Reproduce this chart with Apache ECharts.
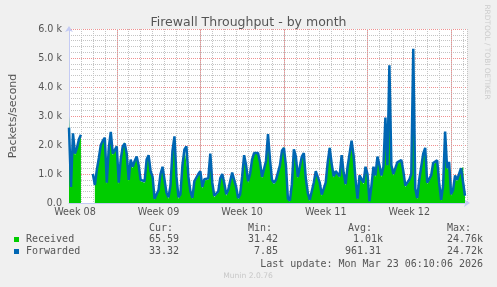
<!DOCTYPE html>
<html><head><meta charset="utf-8">
<script src="https://cdn.jsdelivr.net/npm/echarts@6/dist/echarts.min.js"></script>
<style>html,body{margin:0;padding:0;background:#f0f0f0}#c{width:497px;height:287px}</style>
</head><body><div id="c"></div>
<script>
// x positions are hours relative to the start of week 09
const weekLabels = ['Week 08','Week 09','Week 10','Week 11','Week 12'];
const weekLabelHours = [-84, 84, 252, 420, 588];
const weekStartHours = [0, 168, 336, 504, 672];
const startHour = -96, endHour = 704, stepHours = 4;

const forwarded = [
 2600,550,2400,1700,1900,2200,2350,null,null,null,
 null,null,1000,620,1150,1550,2000,2150,2250,700,
 1900,2450,1700,1750,1950,700,1500,1950,2050,1700,
 800,1500,1250,1450,1600,1300,800,750,750,1500,
 1650,1100,900,150,150,450,1000,1250,1200,350,
 200,600,1800,2300,900,200,300,1300,1850,1950,
 900,400,180,750,800,1000,1100,550,820,820,
 850,1700,700,250,220,400,850,1000,700,300,
 450,750,1050,1050,550,170,300,900,1650,1300,
 750,1000,1500,1720,1680,1720,1400,900,900,1450,
 2380,1500,800,700,800,1050,1300,1800,1900,1300,
 150,80,650,1850,1600,900,1250,1600,1720,850,
 350,110,80,700,1100,1100,700,290,330,700,
 1400,1900,1350,920,1100,1150,920,1650,1050,650,
 1250,1200,2150,1650,800,150,950,1000,700,1250,
 1000,60,600,1250,950,1600,1300,950,1250,2950,
 1300,4750,1300,1000,950,1400,1450,1480,1100,600,
 570,800,1000,5320,500,170,800,850,1700,1900,
 700,650,950,1380,1380,1470,700,110,600,2460,
 1200,1420,300,450,950,800,850,1200,1200,250
];
const received = [
 3000,500,2350,1650,1850,2150,2300,null,null,null,
 null,null,null,600,1100,1500,1950,2100,2200,650,
 1850,2400,1650,1700,2000,650,1450,1900,2100,1650,
 750,1450,1200,1400,1550,1250,750,700,700,1450,
 1600,1050,850,120,120,400,950,1200,1150,300,
 150,550,1750,2250,850,150,250,1250,1900,1900,
 850,350,150,700,750,950,1050,500,780,780,
 800,1650,650,200,180,350,800,950,650,250,
 400,700,1000,1000,500,130,250,850,1600,1250,
 700,950,1450,1700,1650,1700,1350,850,850,1400,
 2350,1450,750,650,750,1000,1250,1750,1950,1250,
 120,50,600,1800,1550,850,1200,1550,1700,800,
 300,80,50,650,1050,1050,650,250,300,650,
 1350,1950,1300,880,1050,1100,880,1600,1000,600,
 1200,1150,2100,1600,750,120,900,950,650,1200,
 950,40,550,1200,900,1550,1250,900,1200,2900,
 1250,4700,1250,950,900,1350,1400,1450,1050,550,
 520,750,950,5300,450,130,750,800,1650,1850,
 650,600,900,1330,1330,1450,650,80,550,2400,
 1150,1400,250,400,900,750,800,1150,1250,200
];

const statHeaders = ['Cur:','Min:','Avg:','Max:'];
const receivedStats = ['65.59','31.42','1.01k','24.76k'];
const forwardedStats = ['33.32','7.85','961.31','24.72k'];
const lastUpdate = 'Last update: Mon Mar 23 06:10:06 2026';

const toPairs = arr => arr.map((v,i)=>[startHour + i*stepHours, v]);

const mono = '"DejaVu Sans Mono", monospace';
const sans = '"DejaVu Sans", sans-serif';
const txt = '#555';
const majorGrid = '#f09090';
const minorGrid = '#c4c4c4';
const axisCol = '#c4cbf4';

function monoText(t, x, y, align){
  return {type:'text', x:x, y:y, silent:true,
    style:{text:t, fontFamily:mono, fontSize:10, fill:txt, align:align, verticalAlign:'middle'}};
}
const headerX = [149,248,348,447];
const recRight = [179,278,383,483];
const fwdRight = [179,278,381,483];

const graphic = [];
statHeaders.forEach((t,i)=>graphic.push(monoText(t, headerX[i], 228, 'left')));
graphic.push({type:'rect', shape:{x:14,y:237,width:5,height:5}, style:{fill:'#00CC00'}});
graphic.push(monoText('Received', 26, 239.5, 'left'));
receivedStats.forEach((t,i)=>graphic.push(monoText(t, recRight[i], 239.5, 'right')));
graphic.push({type:'rect', shape:{x:14,y:249,width:5,height:5}, style:{fill:'#0066B3'}});
graphic.push(monoText('Forwarded', 26, 251.5, 'left'));
forwardedStats.forEach((t,i)=>graphic.push(monoText(t, fwdRight[i], 251.5, 'right')));
graphic.push(monoText(lastUpdate, 483, 264, 'right'));
graphic.push({type:'text', x:248, y:276, style:{text:'Munin 2.0.76', fontFamily:sans, fontSize:7.6, fill:'#c8c8c8', align:'center', verticalAlign:'middle'}});
graphic.push({type:'text', x:487, y:52, rotation:-Math.PI/2, style:{text:'RRDTOOL / TOBI OETIKER', fontFamily:sans, fontSize:7.4, fill:'#cccccc', align:'center', verticalAlign:'middle'}});

const chart = echarts.init(document.getElementById('c'), null, {renderer:'canvas'});
chart.setOption({
  animation:false,
  backgroundColor:'#f0f0f0',
  title:{text:'Firewall Throughput - by month', left:'center', top:11,
    textStyle:{fontFamily:sans, fontSize:12.5, fontWeight:'normal', color:txt}},
  grid:{left:67, top:29, width:400, height:174, show:true, backgroundColor:'#ffffff', borderWidth:0},
  xAxis:{type:'value', min:startHour, max:endHour, interval:24,
    axisLine:{show:true, onZero:false, lineStyle:{color:axisCol, width:1}, symbol:['none','arrow'], symbolSize:[6,6], symbolOffset:[0,3]},
    axisTick:{show:false},
    axisLabel:{customValues:weekLabelHours, formatter:v=>weekLabels[weekLabelHours.indexOf(v)] || '',
      color:txt, fontFamily:sans, fontSize:9.6, margin:4},
    splitLine:{show:true, lineStyle:{color:minorGrid, type:[1,1], width:1}}
  },
  yAxis:{type:'value', min:0, max:6000, interval:1000,
    axisLine:{show:true, onZero:false, lineStyle:{color:axisCol, width:1}, symbol:['none','arrow'], symbolSize:[6,6], symbolOffset:[0,3]},
    axisTick:{show:false},
    axisLabel:{formatter:v=> v===0 ? '0.0' : (v/1000).toFixed(1)+' k', color:txt, fontFamily:sans, fontSize:9.6, margin:7},
    splitLine:{show:true, lineStyle:{color:majorGrid, type:[1,1], width:1}},
    minorTick:{show:false, splitNumber:5},
    minorSplitLine:{show:true, lineStyle:{color:minorGrid, type:[1,1], width:1}},
    name:'Packets/second', nameLocation:'middle', nameGap:50, nameRotate:90,
    nameTextStyle:{color:txt, fontFamily:sans, fontSize:11}
  },
  graphic:graphic,
  series:[
    {type:'line', data:[], z:1, silent:true,
      markLine:{silent:true, z:1, symbol:'none', label:{show:false},
        lineStyle:{color:majorGrid, type:[1,1], width:1},
        emphasis:{disabled:true},
        data:weekStartHours.map(h=>({xAxis:h}))}},
    {name:'Received', type:'line', data:toPairs(received), z:3, showSymbol:false, connectNulls:false,
      lineStyle:{width:0, color:'#00CC00'}, itemStyle:{color:'#00CC00'},
      areaStyle:{color:'#00CC00', opacity:1}},
    {name:'Forwarded', type:'line', data:toPairs(forwarded), z:4, showSymbol:false, connectNulls:false,
      lineStyle:{width:2.5, color:'#0066B3'}, itemStyle:{color:'#0066B3'}}
  ]
});
</script>
</body></html>
